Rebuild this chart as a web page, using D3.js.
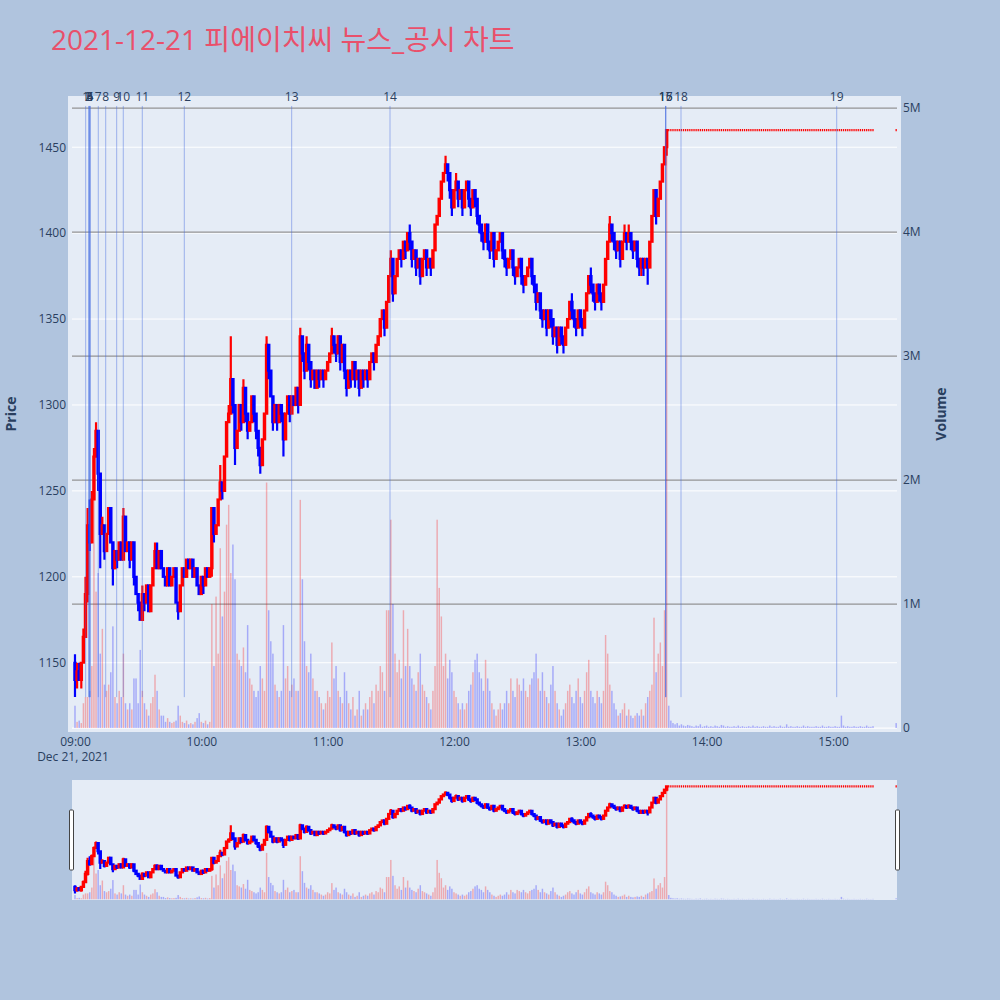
<!DOCTYPE html>
<html><head><meta charset="utf-8">
<script src="https://cdn.jsdelivr.net/npm/d3@7"></script>
<style>
body{margin:0;background:#B0C4DE}
text{font-family:"Open Sans","Noto Sans CJK KR",sans-serif}
</style>
</head><body><svg id="c" width="1000" height="1000"></svg>
<script>
// ---------------- DATA ----------------
const chartTitle = "2021-12-21 피에이치씨 뉴스_공시 차트";
const tradeDate = "2021-12-21";
const startTime = "09:00:00";   // first 1-minute candle, one candle per minute after that

const activeOpens = [
1150,1140,1145,1140,1150,1165,1190,1230,1220,1245,
1270,1285,1260,1225,1230,1215,1225,1240,1220,1205,
1215,1210,1220,1210,1235,1215,1220,1210,1220,1200,
1190,1185,1175,1190,1185,1195,1180,1195,1205,1215,
1205,1215,1205,1200,1195,1205,1195,1200,1205,1185,
1180,1195,1205,1200,1210,1205,1210,1200,1205,1195,
1190,1200,1195,1205,1200,1205,1240,1225,1230,1245,
1255,1250,1270,1290,1295,1315,1300,1275,1285,1300,
1290,1310,1295,1285,1290,1305,1295,1285,1275,1265,
1280,1295,1335,1320,1305,1290,1300,1290,1300,1295,
1280,1295,1305,1295,1305,1300,1310,1300,1340,1330,
1320,1335,1325,1315,1320,1310,1320,1315,1320,1315,
1320,1325,1330,1340,1335,1330,1340,1325,1335,1320,
1310,1320,1315,1325,1315,1320,1310,1320,1315,1320,
1315,1325,1330,1325,1335,1340,1350,1355,1345,1360,
1375,1385,1365,1375,1385,1390,1385,1395,1390,1400,
1395,1385,1390,1380,1385,1375,1385,1390,1380,1385,
1380,1390,1405,1410,1420,1430,1435,1440,1435,1425,
1415,1425,1430,1420,1425,1415,1425,1430,1420,1415,
1425,1420,1410,1405,1400,1395,1405,1395,1390,1400,
1385,1390,1395,1400,1390,1385,1380,1385,1390,1380,
1375,1380,1385,1375,1370,1375,1380,1385,1375,1370,
1360,1365,1355,1350,1355,1345,1355,1350,1340,1345,
1335,1345,1340,1335,1345,1350,1360,1355,1350,1345,
1355,1350,1345,1355,1365,1375,1370,1365,1360,1370,
1365,1360,1370,1385,1395,1405,1400,1395,1390,1395,
1385,1395,1400,1395,1400,1395,1390,1395,1385,1380,
1385,1380,1385,1380,1395,1410,1425,1410,1420,1430,
1440,1450];

const activeHighs = [
1155,1150,1150,1150,1170,1200,1240,1245,1250,1275,
1290,1285,1260,1235,1230,1225,1240,1240,1220,1215,
1215,1220,1220,1240,1235,1220,1220,1220,1220,1200,
1190,1185,1195,1190,1195,1195,1195,1205,1220,1220,
1215,1215,1205,1200,1205,1205,1200,1205,1205,1185,
1195,1205,1205,1210,1210,1210,1210,1205,1205,1195,
1200,1200,1205,1205,1205,1240,1240,1230,1245,1265,
1255,1270,1290,1300,1340,1315,1300,1285,1300,1300,
1315,1310,1295,1290,1305,1305,1295,1285,1275,1280,
1295,1340,1335,1320,1305,1300,1300,1300,1300,1295,
1295,1305,1305,1305,1305,1310,1310,1345,1340,1330,
1340,1335,1325,1320,1320,1320,1320,1320,1320,1320,
1325,1330,1345,1340,1335,1340,1340,1335,1335,1320,
1320,1320,1325,1325,1320,1320,1320,1320,1320,1320,
1325,1330,1330,1335,1340,1350,1355,1355,1360,1375,
1390,1385,1375,1385,1390,1390,1395,1395,1400,1405,
1395,1390,1390,1385,1385,1385,1390,1390,1385,1385,
1390,1405,1410,1420,1430,1435,1445,1440,1435,1425,
1425,1435,1430,1425,1425,1425,1430,1430,1420,1425,
1425,1420,1410,1405,1400,1405,1405,1395,1400,1400,
1390,1395,1400,1400,1390,1385,1385,1390,1390,1380,
1380,1385,1385,1375,1375,1380,1385,1385,1375,1370,
1365,1365,1355,1355,1355,1355,1355,1350,1345,1345,
1345,1345,1340,1345,1350,1360,1365,1355,1350,1355,
1355,1350,1355,1365,1375,1380,1370,1365,1370,1370,
1365,1370,1385,1395,1410,1405,1400,1395,1395,1395,
1395,1405,1400,1405,1400,1395,1395,1395,1385,1385,
1385,1385,1385,1395,1410,1425,1425,1420,1430,1440,
1450,1460];

const activeLows = [
1130,1135,1140,1135,1150,1165,1185,1215,1220,1245,
1270,1250,1205,1225,1210,1215,1225,1220,1195,1205,
1205,1210,1210,1210,1215,1215,1205,1210,1195,1190,
1180,1175,1175,1180,1185,1180,1180,1195,1205,1205,
1205,1205,1200,1195,1195,1195,1195,1200,1185,1175,
1180,1195,1200,1200,1205,1205,1200,1200,1195,1190,
1190,1190,1195,1200,1200,1200,1220,1225,1230,1245,
1245,1250,1270,1290,1295,1295,1265,1275,1285,1285,
1290,1290,1280,1285,1290,1290,1280,1270,1260,1265,
1280,1295,1315,1305,1285,1290,1285,1290,1290,1270,
1280,1295,1290,1295,1300,1300,1295,1300,1325,1315,
1320,1320,1310,1315,1310,1310,1310,1315,1310,1315,
1320,1325,1330,1330,1325,1330,1320,1325,1315,1305,
1310,1310,1315,1310,1315,1305,1310,1310,1315,1310,
1315,1325,1320,1325,1335,1340,1350,1340,1345,1360,
1375,1360,1365,1375,1385,1380,1385,1385,1390,1390,
1380,1385,1375,1380,1370,1375,1385,1375,1380,1375,
1380,1390,1405,1410,1420,1430,1435,1430,1420,1410,
1415,1425,1415,1420,1410,1415,1425,1415,1410,1415,
1415,1405,1400,1395,1390,1395,1390,1385,1390,1380,
1385,1390,1395,1385,1380,1375,1380,1385,1375,1370,
1375,1380,1370,1365,1370,1375,1380,1370,1365,1355,
1360,1350,1345,1350,1340,1345,1345,1335,1340,1330,
1335,1335,1330,1335,1345,1350,1350,1345,1340,1345,
1345,1340,1345,1355,1365,1365,1360,1355,1360,1360,
1355,1360,1370,1385,1395,1395,1390,1385,1390,1380,
1385,1395,1390,1395,1390,1385,1390,1380,1375,1375,
1375,1380,1370,1380,1395,1410,1405,1410,1420,1430,
1440,1445];

const activeCloses = [
1140,1145,1140,1150,1165,1190,1230,1220,1245,1270,
1285,1260,1225,1230,1215,1225,1240,1220,1205,1215,
1210,1220,1210,1235,1215,1220,1210,1220,1200,1190,
1185,1175,1190,1185,1195,1180,1195,1205,1215,1205,
1215,1205,1200,1195,1205,1195,1200,1205,1185,1180,
1195,1205,1200,1210,1205,1210,1200,1205,1195,1190,
1200,1195,1205,1200,1205,1240,1225,1230,1245,1255,
1250,1270,1290,1295,1315,1300,1275,1285,1300,1290,
1310,1295,1285,1290,1305,1295,1285,1275,1265,1280,
1295,1335,1320,1305,1290,1300,1290,1300,1295,1280,
1295,1305,1295,1305,1300,1310,1300,1340,1330,1320,
1335,1325,1315,1320,1310,1320,1315,1320,1315,1320,
1325,1330,1340,1335,1330,1340,1325,1335,1320,1310,
1320,1315,1325,1315,1320,1310,1320,1315,1320,1315,
1325,1330,1325,1335,1340,1350,1355,1345,1360,1375,
1385,1365,1375,1385,1390,1385,1395,1390,1400,1395,
1385,1390,1380,1385,1375,1385,1390,1380,1385,1380,
1390,1405,1410,1420,1430,1435,1440,1435,1425,1415,
1425,1430,1420,1425,1415,1425,1430,1420,1415,1425,
1420,1410,1405,1400,1395,1405,1395,1390,1400,1385,
1390,1395,1400,1390,1385,1380,1385,1390,1380,1375,
1380,1385,1375,1370,1375,1380,1385,1375,1370,1360,
1365,1355,1350,1355,1345,1355,1350,1340,1345,1335,
1345,1340,1335,1345,1350,1360,1355,1350,1345,1355,
1350,1345,1355,1365,1375,1370,1365,1360,1370,1365,
1360,1370,1385,1395,1405,1400,1395,1390,1395,1385,
1395,1400,1395,1400,1395,1390,1395,1385,1380,1385,
1380,1385,1380,1395,1410,1425,1410,1420,1430,1440,
1450,1460];

// volume in thousands of shares
const activeVolK = [
180,50,60,40,200,250,250,300,500,2000,
1100,1250,600,800,350,300,350,450,820,250,
200,300,250,600,200,150,200,150,400,400,
200,630,300,200,150,100,200,250,430,300,
150,100,100,50,80,50,40,50,60,180,
100,50,40,60,30,40,30,50,80,120,
50,40,60,30,50,1000,500,1060,600,1450,
900,1100,1640,1800,1250,1480,1200,600,550,500,
650,450,830,400,350,300,250,300,500,400,
300,1980,950,700,600,350,300,250,300,830,
400,500,300,350,400,300,300,1840,1200,700,
500,450,600,400,300,300,250,200,150,200,
300,250,690,400,500,300,250,200,450,300,
200,150,250,100,150,300,100,150,200,150,
250,300,200,350,300,500,450,300,950,950,
1680,1000,600,450,550,400,950,500,800,500,
400,350,300,450,600,350,300,250,200,150,
300,500,1680,1130,900,500,600,400,550,450,
300,250,200,150,200,150,200,300,350,450,
550,600,450,400,300,550,400,300,200,150,
100,150,200,150,200,300,200,400,300,250,
400,350,300,400,300,250,350,400,450,600,
400,300,450,300,250,200,350,500,300,200,
150,100,150,200,300,350,250,200,300,400,
250,200,300,450,550,300,250,200,300,250,
200,300,750,600,350,300,200,150,100,120,
150,200,100,150,100,80,100,120,100,150,
100,200,250,300,350,890,450,600,690,500,
950,4810];

// upper-limit (상한가) period 13:42 - 15:19, every minute flat at 1460
const limitPrices = [
1460,1460,1460,1460,1460,1460,1460,1460,1460,1460,
1460,1460,1460,1460,1460,1460,1460,1460,1460,1460,
1460,1460,1460,1460,1460,1460,1460,1460,1460,1460,
1460,1460,1460,1460,1460,1460,1460,1460,1460,1460,
1460,1460,1460,1460,1460,1460,1460,1460,1460,1460,
1460,1460,1460,1460,1460,1460,1460,1460,1460,1460,
1460,1460,1460,1460,1460,1460,1460,1460,1460,1460,
1460,1460,1460,1460,1460,1460,1460,1460,1460,1460,
1460,1460,1460,1460,1460,1460,1460,1460,1460,1460,
1460,1460,1460,1460,1460,1460,1460,1460];
const limitVolK = [
180,60,40,30,40,20,30,20,15,25,
20,15,10,20,15,30,10,15,20,10,
15,10,20,15,10,25,20,10,15,10,
10,15,10,20,10,15,10,10,15,10,
20,10,15,10,10,15,10,10,20,10,
15,10,10,20,10,10,30,10,15,10,
10,15,10,10,20,10,15,10,10,10,
15,10,10,20,10,10,15,10,10,15,
10,10,100,20,10,15,10,10,15,10,
10,15,10,10,20,10,10,15];

// closing single-price auction
const auctionTime = "15:30:00";
const auctionPrice = 1460;
const auctionVolK = 40;

const newsLabels = ["1","2","3","4","5","6","7","8","9","10","11","12","13","14","15","16","17","18","19"];
const newsTimes = ["09:05:05","09:06:25","09:06:47","09:07:07","09:07:07","09:07:07","09:11:04","09:14:35",
  "09:19:48","09:22:56","09:31:58","09:51:55","10:42:55","11:29:37","13:40:33","13:40:33","13:40:33",
  "13:47:49","15:01:46"];

const priceTicks = [1150,1200,1250,1300,1350,1400,1450];
const volTicksK = [0,1000,2000,3000,4000,5000];
const timeTicks = ["09:00:00","10:00:00","11:00:00","12:00:00","13:00:00","14:00:00","15:00:00"];
const dateLabel = "Dec 21, 2021";

// ---------------- BUILD ----------------
const nA = activeOpens.length;
[activeHighs, activeLows, activeCloses, activeVolK].forEach((a,i)=>{
  if (a.length !== nA) throw new Error("length mismatch " + i + ": " + a.length + " vs " + nA);
});
if (limitPrices.length !== limitVolK.length) throw new Error("limit length mismatch");

const T = s => new Date(`${tradeDate}T${s}`);
const t0 = T(startTime);
const MIN = 60000;
const candles = [];
for (let i = 0; i < nA; i++) {
  candles.push({t: new Date(+t0 + i*MIN), o: activeOpens[i], h: activeHighs[i], l: activeLows[i], c: activeCloses[i], v: activeVolK[i]});
}
for (let j = 0; j < limitPrices.length; j++) {
  const p = limitPrices[j];
  candles.push({t: new Date(+t0 + (nA + j)*MIN), o: p, h: p, l: p, c: p, v: limitVolK[j]});
}
candles.push({t: T(auctionTime), o: auctionPrice, h: auctionPrice, l: auctionPrice, c: auctionPrice, v: auctionVolK});

const RED = "#FF0000", BLUE = "#0000FF";
const candleColor = d => d.c >= d.o ? RED : BLUE;
const volColor = d => d.c > d.o ? RED : BLUE;

// ---------------- LAYOUT ----------------
const svg = d3.select("#c");
const P = {l: 68, r: 901, t: 96, b: 732, gl: 72, gr: 897};
const M = {l: 72, r: 897, t: 780, b: 900};
const INK = "#2a3f5f";

svg.append("rect").attr("width",1000).attr("height",1000).attr("fill","#B0C4DE");

svg.append("text").attr("x",51).attr("y",50).attr("font-size",28).attr("fill","#E9506B")
  .text(chartTitle);

const x = d3.scaleTime().domain([T("08:56:41"), T("15:30:24")]).range([68, 897]);
const yP = d3.scaleLinear().domain([1109.7, 1479.8]).range([P.b, P.t]);
const yV = d3.scaleLinear().domain([-32, 5097]).range([P.b, P.t]);
const yPm = d3.scaleLinear().domain([1109.7, 1479.8]).range([M.b, M.t]);
const yVm = d3.scaleLinear().domain([-32, 5097]).range([M.b, M.t]);

const step = x(new Date(+t0 + MIN)) - x(t0);

const defs = svg.append("defs");
defs.append("clipPath").attr("id","clipMain").append("rect")
  .attr("x",P.l).attr("y",P.t).attr("width",P.r-P.l).attr("height",P.b-P.t);
defs.append("clipPath").attr("id","clipMini").append("rect")
  .attr("x",M.l).attr("y",M.t).attr("width",M.r-M.l).attr("height",M.b-M.t);

// main plot background
svg.append("rect").attr("x",P.l).attr("y",P.t).attr("width",P.r-P.l).attr("height",P.b-P.t).attr("fill","#E5ECF6");

// price gridlines (white)
svg.append("g").selectAll("line").data(priceTicks).join("line")
  .attr("x1",P.gl).attr("x2",P.gr).attr("y1",d=>yP(d)).attr("y2",d=>yP(d))
  .attr("stroke","#fff").attr("stroke-width",1);
// volume gridlines (gray)
svg.append("g").selectAll("line").data(volTicksK).join("line")
  .attr("x1",P.gl).attr("x2",P.gr).attr("y1",d=>yV(d)).attr("y2",d=>yV(d))
  .attr("stroke",d=>d===0?"#fff":"#8a8a8a").attr("stroke-opacity",0.9).attr("stroke-width",1.2);

function candlePath(d, sx, sy) {
  const xc = sx(d.t), w = step*0.6, xl = xc - w/2, xr = xc + w/2;
  const yo = sy(d.o), yc = sy(d.c), yh = sy(d.h), yl = sy(d.l);
  let p = `M${xl},${yo}H${xr}V${yc}H${xl}Z`;
  const top = Math.min(yo,yc), bot = Math.max(yo,yc);
  if (yh < top) p += `M${xc},${top}V${yh}`;
  if (yl > bot) p += `M${xc},${bot}V${yl}`;
  return p;
}

function drawSeries(g, sx, sy, syv, base) {
  g.append("g").selectAll("rect").data(candles).join("rect")
    .attr("x", d => sx(d.t) - step*0.35).attr("width", step*0.7)
    .attr("y", d => syv(d.v)).attr("height", d => Math.max(0, base - syv(d.v)))
    .attr("fill", volColor).attr("fill-opacity", 0.28);
  g.append("g").selectAll("path").data(candles).join("path")
    .attr("d", d => candlePath(d, sx, sy))
    .attr("fill", candleColor).attr("fill-opacity", 0.5)
    .attr("stroke", candleColor).attr("stroke-width", 2.2).attr("stroke-linecap","butt");
}

const gMain = svg.append("g").attr("clip-path","url(#clipMain)");
drawSeries(gMain, x, yP, yV, yV(0));

// news lines
const gNews = svg.append("g");
gNews.selectAll("line").data(newsTimes).join("line")
  .attr("x1", d => x(T(d))).attr("x2", d => x(T(d)))
  .attr("y1", yP(1474)).attr("y2", yP(1130))
  .attr("stroke","#4169E1").attr("stroke-opacity",0.45).attr("stroke-width",1);
gNews.selectAll("text").data(newsTimes).join("text")
  .attr("x", d => x(T(d))).attr("y", 101).attr("text-anchor","middle")
  .attr("font-size",12).attr("fill",INK).text((d,i)=>newsLabels[i]);

// axes
const axL = svg.append("g").attr("transform",`translate(${P.l},0)`)
  .call(d3.axisLeft(yP).tickValues(priceTicks).tickSize(0).tickPadding(2).tickFormat(d3.format("d")));
const axR = svg.append("g").attr("transform",`translate(${P.r},0)`)
  .call(d3.axisRight(yV).tickValues(volTicksK).tickSize(0).tickPadding(2)
    .tickFormat(d => d === 0 ? "0" : (d/1000) + "M"));
const axB = svg.append("g").attr("transform",`translate(0,${P.b})`)
  .call(d3.axisBottom(x).tickValues(timeTicks.map(T)).tickSize(0).tickPadding(5)
    .tickFormat(d3.timeFormat("%H:%M")));
[axL, axR, axB].forEach(a => {
  a.select(".domain").remove();
  a.selectAll("text").attr("font-size",12).attr("fill",INK).attr("font-family",'"Open Sans",sans-serif');
});
svg.append("text").attr("x", x(T(timeTicks[0])) - 2).attr("y", 761).attr("text-anchor","middle")
  .attr("font-size",12).attr("fill",INK).text(dateLabel);

svg.append("text").attr("transform",`translate(10,${(P.t+P.b)/2}) rotate(-90)`)
  .attr("text-anchor","middle").attr("dominant-baseline","central")
  .attr("font-size",14).attr("font-weight","bold").attr("fill",INK).text("Price");
svg.append("text").attr("transform",`translate(940,${(P.t+P.b)/2}) rotate(-90)`)
  .attr("text-anchor","middle").attr("dominant-baseline","central")
  .attr("font-size",14).attr("font-weight","bold").attr("fill",INK).text("Volume");

// range slider
svg.append("rect").attr("x",M.l).attr("y",M.t).attr("width",M.r-M.l).attr("height",M.b-M.t).attr("fill","#E5ECF6");
const gMini = svg.append("g").attr("clip-path","url(#clipMini)");
drawSeries(gMini, x, yPm, yVm, yVm(0));
[M.l - 2.5, M.r - 1.5].forEach(hx => {
  svg.append("rect").attr("x",hx).attr("y",810).attr("width",4).attr("height",60).attr("rx",1)
    .attr("fill","#fff").attr("stroke","#444").attr("stroke-width",1);
});
</script></body></html>
